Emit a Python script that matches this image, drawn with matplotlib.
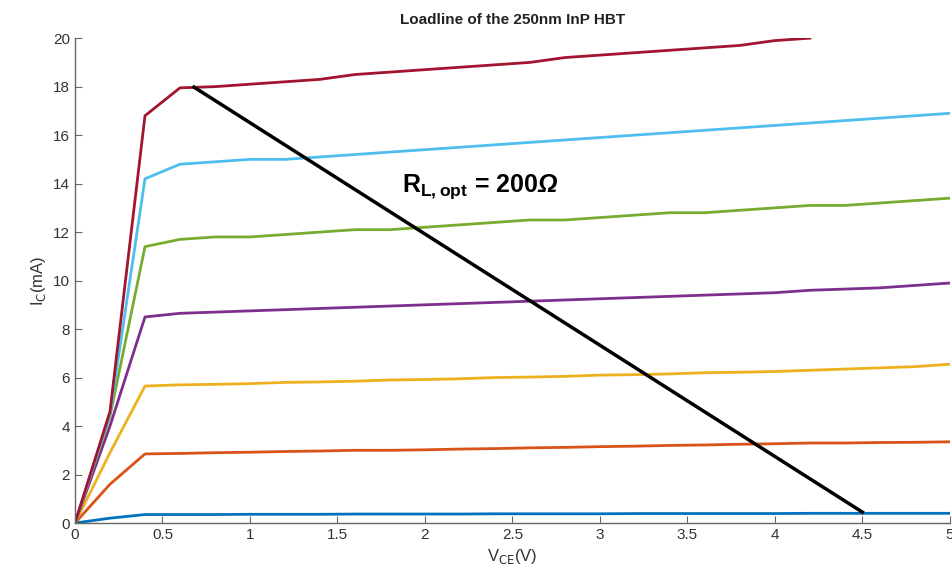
import matplotlib
matplotlib.use("Agg")
import matplotlib.pyplot as plt

plt.rcParams["font.family"] = ["Liberation Sans", "DejaVu Sans"]
# bold face for the annotation; rm used only for the italic Omega
plt.rcParams["mathtext.fontset"] = "custom"
plt.rcParams["mathtext.rm"] = "Liberation Sans:italic:bold"
plt.rcParams["mathtext.bf"] = "Liberation Sans:bold"

# V_CE sweep (V)
vce = [0.0, 0.2, 0.4, 0.6, 0.8, 1.0, 1.2, 1.4, 1.6, 1.8, 2.0, 2.2, 2.4,
       2.6, 2.8, 3.0, 3.2, 3.4, 3.6, 3.8, 4.0, 4.2, 4.4, 4.6, 4.8, 5.0]

# I_C curves (mA), one per base drive
ic_blue = [0.0, 0.2, 0.35, 0.35, 0.35, 0.36, 0.36, 0.36, 0.37, 0.37, 0.37, 0.37, 0.38,
           0.38, 0.38, 0.38, 0.39, 0.39, 0.39, 0.39, 0.39, 0.40, 0.40, 0.40, 0.40, 0.40]
ic_orange = [0.0, 1.6, 2.85, 2.87, 2.9, 2.92, 2.95, 2.97, 3.0, 3.0, 3.02, 3.05, 3.07,
             3.1, 3.12, 3.15, 3.17, 3.2, 3.22, 3.25, 3.27, 3.3, 3.3, 3.32, 3.33, 3.35]
ic_yellow = [0.0, 2.9, 5.65, 5.7, 5.72, 5.75, 5.8, 5.82, 5.85, 5.9, 5.92, 5.95, 6.0,
             6.02, 6.05, 6.1, 6.12, 6.15, 6.2, 6.22, 6.25, 6.3, 6.35, 6.4, 6.45, 6.55]
ic_purple = [0.0, 4.0, 8.5, 8.65, 8.7, 8.75, 8.8, 8.85, 8.9, 8.95, 9.0, 9.05, 9.1,
             9.15, 9.2, 9.25, 9.3, 9.35, 9.4, 9.45, 9.5, 9.6, 9.65, 9.7, 9.8, 9.9]
ic_green = [0.0, 4.4, 11.4, 11.7, 11.8, 11.8, 11.9, 12.0, 12.1, 12.1, 12.2, 12.3, 12.4,
            12.5, 12.5, 12.6, 12.7, 12.8, 12.8, 12.9, 13.0, 13.1, 13.1, 13.2, 13.3, 13.4]
ic_cyan = [0.0, 4.5, 14.2, 14.8, 14.9, 15.0, 15.0, 15.1, 15.2, 15.3, 15.4, 15.5, 15.6,
           15.7, 15.8, 15.9, 16.0, 16.1, 16.2, 16.3, 16.4, 16.5, 16.6, 16.7, 16.8, 16.9]
ic_red = [0.0, 4.6, 16.8, 17.95, 18.0, 18.1, 18.2, 18.3, 18.5, 18.6, 18.7, 18.8, 18.9,
          19.0, 19.2, 19.3, 19.4, 19.5, 19.6, 19.7, 19.9, 20.0]

# load line end points
load_v = [0.68, 4.5]
load_i = [17.98, 0.45]

curves = [
    (ic_blue, "#0072BD"),
    (ic_orange, "#D95319"),
    (ic_yellow, "#EDB120"),
    (ic_purple, "#7E2F8E"),
    (ic_green, "#77AC30"),
    (ic_cyan, "#4DBEEE"),
    (ic_red, "#A2142F"),
]

fig = plt.figure(figsize=(9.53, 5.87), dpi=100)
ax = fig.add_axes([0.0787, 0.109, 0.918, 0.826])

for ic, col in curves:
    ax.plot(vce[:len(ic)], ic, color=col, linewidth=2)

ax.plot(load_v, load_i, color="black", linewidth=2.5)

ax.text(1.87, 13.65, r"$\mathbf{R_{L,opt}}$ = 200$\mathrm{\Omega}$",
        fontsize=18, fontweight="bold", va="baseline", ha="left")

ax.set_xlim(0, 5)
ax.set_ylim(0, 20)
ax.set_xticks([0, 0.5, 1, 1.5, 2, 2.5, 3, 3.5, 4, 4.5, 5])
ax.set_xticklabels(["0", "0.5", "1", "1.5", "2", "2.5", "3", "3.5", "4", "4.5", "5"])
ax.set_yticks(range(0, 21, 2))

for s in ["top", "right"]:
    ax.spines[s].set_visible(False)
for s in ["left", "bottom"]:
    ax.spines[s].set_color("#666666")
    ax.spines[s].set_linewidth(1.0)
ax.tick_params(direction="in", length=5, colors="#666666", labelcolor="#333333",
               labelsize=11)

ax.set_title("Loadline of the 250nm InP HBT", fontsize=11, fontweight="bold",
             color="#222222", pad=10)
ax.set_xlabel(r"V$_{\mathrm{CE}}$(V)", fontsize=12, color="#333333",
              math_fontfamily="dejavusans")
ax.set_ylabel(r"I$_{\mathrm{C}}$(mA)", fontsize=12, color="#333333",
              math_fontfamily="dejavusans")

fig.savefig("out.png", dpi=100)
